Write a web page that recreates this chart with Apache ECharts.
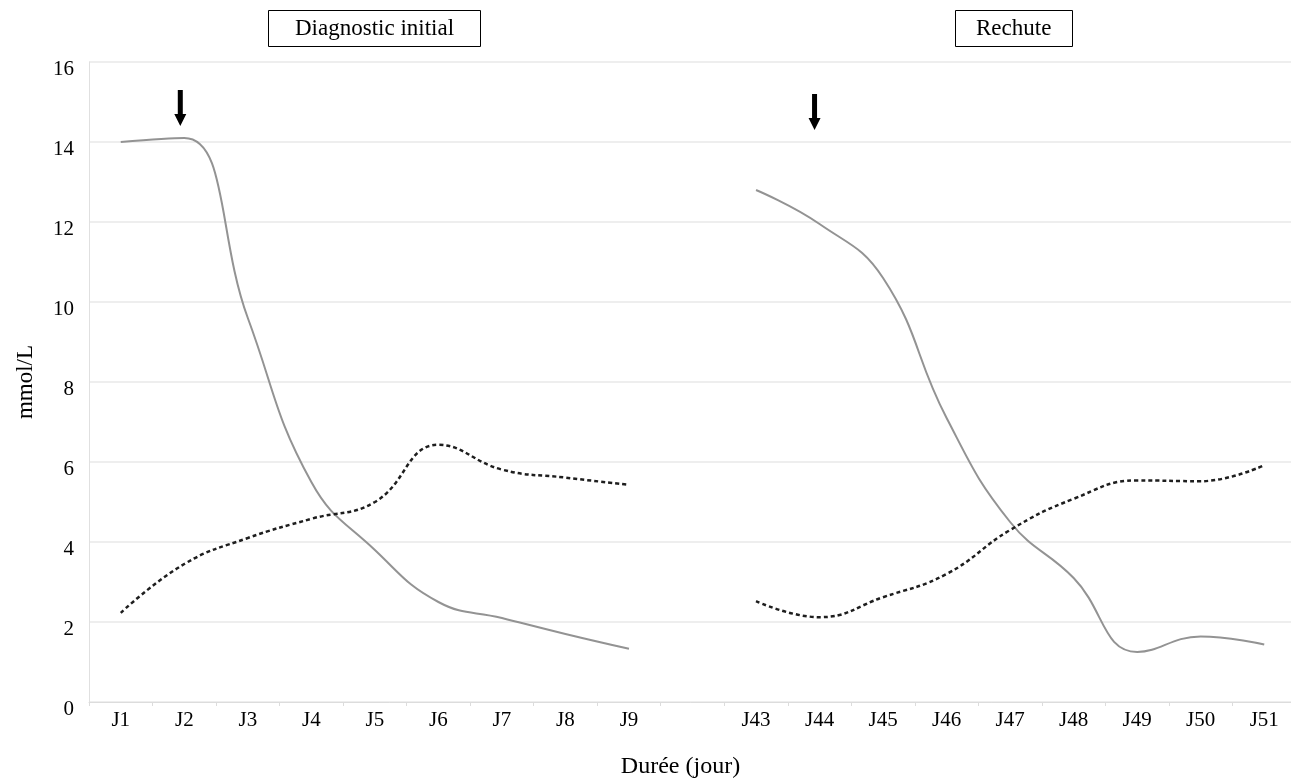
<!DOCTYPE html>
<html>
<head>
<meta charset="utf-8">
<script src="https://cdn.jsdelivr.net/npm/echarts@6/dist/echarts.min.js"></script>
<style>html,body{margin:0;padding:0;background:#fff;}#c{width:1291px;height:780px;}</style>
</head>
<body>
<div id="c"></div>
<script>
const categories = ['J1','J2','J3','J4','J5','J6','J7','J8','J9','',
                    'J43','J44','J45','J46','J47','J48','J49','J50','J51'];
const solidValues = [14.0, 14.1, 9.6, 5.5, 3.8, 2.5, 2.1, 1.7, 1.33, null,
                     12.8, 11.95, 10.6, 7.1, 4.5, 3.1, 1.25, 1.64, 1.44];
const dashedValues = [2.23, 3.45, 4.1, 4.58, 5.0, 6.43, 5.81, 5.61, 5.43, null,
                      2.52, 2.12, 2.62, 3.2, 4.3, 5.08, 5.54, 5.52, 5.92];
const arrowPoints = [['J2', 14.85], ['J44', 14.75]];
const panelTitles = ['Diagnostic initial', 'Rechute'];

const serif = 'Liberation Serif';
const arrowPath = 'path://M3.5,0 L8.5,0 L8.5,24 L12,24 L6,36 L0,24 L3.5,24 Z';

const chart = echarts.init(document.getElementById('c'));
chart.setOption({
  animation: false,
  backgroundColor: '#fff',
  title: [
    { text: panelTitles[0], left: 268, top: 10, padding: [7, 27, 7, 27],
      borderColor: '#000', borderWidth: 1,
      textStyle: { fontFamily: serif, fontSize: 23, fontWeight: 'normal', color: '#000' } },
    { text: panelTitles[1], left: 955, top: 10, padding: [7, 21, 7, 21],
      borderColor: '#000', borderWidth: 1,
      textStyle: { fontFamily: serif, fontSize: 23, fontWeight: 'normal', color: '#000' } }
  ],
  grid: { left: 89, top: 62, width: 1207, height: 640, containLabel: false, outerBoundsMode: 'none' },
  xAxis: {
    type: 'category',
    data: categories,
    boundaryGap: true,
    name: 'Durée (jour)',
    nameLocation: 'middle',
    nameGap: 53,
    nameTextStyle: { fontFamily: serif, fontSize: 24, color: '#000', padding: [0, 24, 0, 0] },
    axisLine: { show: true, lineStyle: { color: '#dcdcdc', width: 1 } },
    axisTick: { show: true, length: 4, lineStyle: { color: '#dcdcdc' } },
    axisLabel: { fontFamily: serif, fontSize: 21, color: '#000', margin: 8 },
    splitLine: { show: false }
  },
  yAxis: {
    type: 'value',
    min: 0, max: 16, interval: 2,
    name: 'mmol/L',
    nameLocation: 'middle',
    nameGap: 52,
    nameRotate: 90,
    nameTextStyle: { fontFamily: serif, fontSize: 23, color: '#000' },
    axisLine: { show: true, lineStyle: { color: '#e0e0e0', width: 1 } },
    axisTick: { show: false },
    axisLabel: { fontFamily: serif, fontSize: 21, color: '#000', margin: 15, verticalAlign: 'top', lineHeight: 14 },
    splitLine: { show: true, lineStyle: { color: '#e8e8e8', width: 1.5 } }
  },
  series: [
    {
      type: 'line',
      data: solidValues,
      smooth: 0.45,
      connectNulls: false,
      showSymbol: false,
      symbol: 'none',
      lineStyle: { color: '#939393', width: 2 },
      markPoint: {
        symbol: arrowPath,
        symbolSize: [12, 36],
        itemStyle: { color: '#000' },
        label: { show: false },
        data: [
          { coord: arrowPoints[0], symbolOffset: [-4, 0] },
          { coord: arrowPoints[1], symbolOffset: [-5, 0] }
        ]
      }
    },
    {
      type: 'line',
      data: dashedValues,
      smooth: 0.45,
      connectNulls: false,
      showSymbol: false,
      symbol: 'none',
      lineStyle: { color: '#1e1e1e', width: 2.5, type: [4, 3] }
    }
  ]
});
</script>
</body>
</html>
